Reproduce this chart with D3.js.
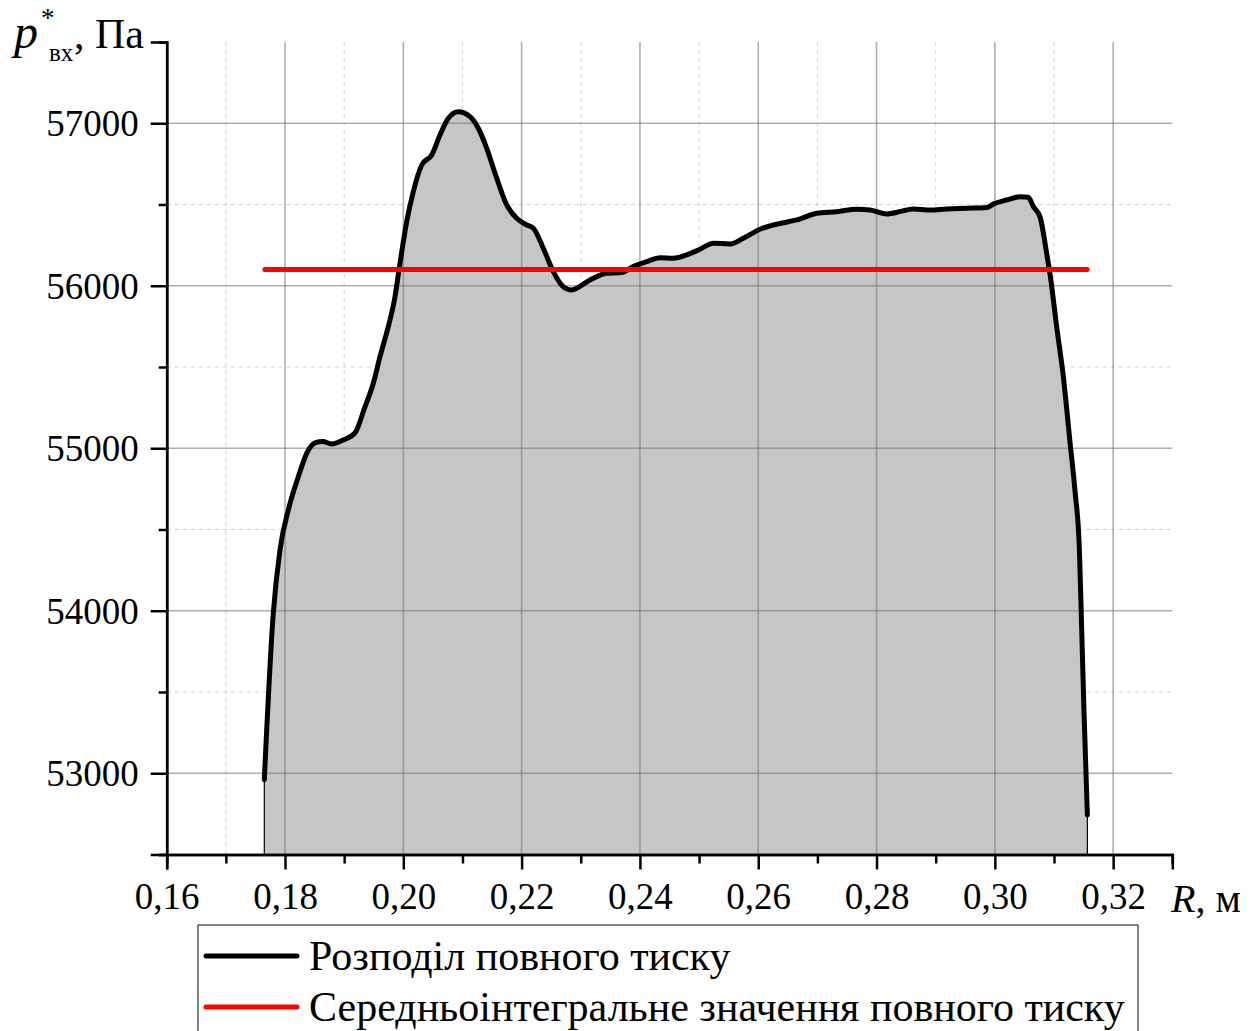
<!DOCTYPE html>
<html>
<head>
<meta charset="utf-8">
<script src="https://cdn.jsdelivr.net/npm/d3@7"></script>
<style>
  html, body { margin: 0; padding: 0; background: #fff; }
  svg { display: block; }
  svg text { font-family: "Liberation Serif", "Times New Roman", serif; }
</style>
</head>
<body>
<svg id="chart" width="1259" height="1031"></svg>
<script>
// ---- data ----
const radius = [0.17650,0.17802,0.17915,0.18056,0.18225,0.18367,0.18507,0.18637,0.18790,0.18986,
  0.19183,0.19353,0.19493,0.19606,0.19746,0.19860,0.19927,0.19978,0.20057,0.20169,
  0.20311,0.20480,0.20620,0.20761,0.20930,0.21128,0.21268,0.21410,0.21579,0.21748,
  0.21917,0.22086,0.22198,0.22367,0.22536,0.22705,0.22847,0.23156,0.23439,0.23692,
  0.23888,0.24115,0.24340,0.24565,0.24791,0.25016,0.25241,0.25523,0.25748,0.26030,
  0.26255,0.26509,0.26651,0.26989,0.27327,0.27665,0.27890,0.28172,0.28397,0.28622,
  0.28904,0.29187,0.29525,0.29863,0.29975,0.30201,0.30426,0.30566,0.30651,0.30764,
  0.30877,0.30933,0.31047,0.31158,0.31271,0.31356,0.31429,0.31469,0.31508,0.31564];
const pressure = [52960,53985,54374,54620,54825,54969,55033,55041,55026,55051,
  55094,55256,55400,55564,55748,55933,56097,56220,56394,56579,
  56743,56805,56928,57031,57071,57041,56969,56846,56662,56497,
  56415,56374,56354,56231,56087,55994,55974,56036,56077,56081,
  56118,56148,56173,56169,56190,56225,56262,56257,56292,56348,
  56374,56394,56405,56446,56456,56471,56466,56442,56456,56473,
  56466,56473,56477,56481,56503,56528,56548,56545,56487,56424,
  56197,56071,55743,55441,55037,54734,54381,53877,53372,52743];
const meanPressure = 56100;
const meanRange = [0.1766, 0.3156];

const xMajorTicks = [0.16,0.18,0.20,0.22,0.24,0.26,0.28,0.30,0.32];
const xMinorTicks = [0.17,0.19,0.21,0.23,0.25,0.27,0.29,0.31,0.33];
const yMajorTicks = [53000,54000,55000,56000,57000];
const yMinorTicks = [52500,53500,54500,55500,56500,57500];
const xDomain = [0.16, 0.33];
const yDomain = [52500, 57500];
const legendLabels = ["Розподіл повного тиску", "Середньоінтегральне значення повного тиску"];

// ---- drawing ----
const FONT = "Liberation Serif, Times New Roman, serif";
const svg = d3.select("#chart");
const x = d3.scaleLinear().domain(xDomain).range([166.7, 1172.3]);
const y = d3.scaleLinear().domain(yDomain).range([854.5, 42]);
const pts = radius.map((r, i) => [r, pressure[i]]);

// minor grid (under fill)
const gMinor = svg.append("g");
gMinor.selectAll("line.vx").data(xMinorTicks.filter(d => d < 0.33)).join("line")
  .attr("x1", d => x(d)).attr("x2", d => x(d)).attr("y1", y(yDomain[0])).attr("y2", y(yDomain[1]))
  .attr("stroke", "#cfcfcf").attr("stroke-width", 1).attr("stroke-dasharray", "4,4");
gMinor.selectAll("line.hy").data(yMinorTicks.filter(d => d > 52500 && d < 57500)).join("line")
  .attr("x1", x(xDomain[0])).attr("x2", x(xDomain[1])).attr("y1", d => y(d)).attr("y2", d => y(d))
  .attr("stroke", "#cfcfcf").attr("stroke-width", 1).attr("stroke-dasharray", "4,4");

// fill
const curve = d3.curveMonotoneX;
const area = d3.area().x(d => x(d[0])).y0(y(yDomain[0])).y1(d => y(d[1])).curve(curve);
svg.append("path").datum(pts).attr("d", area).attr("fill", "#c6c6c6");

// major grid (over fill)
const gMajor = svg.append("g");
gMajor.selectAll("line").data(xMajorTicks.filter(d => d > 0.16)).join("line")
  .attr("x1", d => x(d)).attr("x2", d => x(d)).attr("y1", y(yDomain[0])).attr("y2", y(yDomain[1]))
  .attr("stroke", "#7a7a7a").attr("stroke-opacity", 0.6).attr("stroke-width", 1.6);
gMajor.selectAll("line.h").data(yMajorTicks).join("line")
  .attr("x1", x(xDomain[0])).attr("x2", x(xDomain[1])).attr("y1", d => y(d)).attr("y2", d => y(d))
  .attr("stroke", "#7a7a7a").attr("stroke-opacity", 0.6).attr("stroke-width", 1.6);

// thin edges of the filled region
[pts[0], pts[pts.length - 1]].forEach(p => {
  svg.append("line").attr("x1", x(p[0])).attr("x2", x(p[0]))
    .attr("y1", y(p[1])).attr("y2", y(yDomain[0]))
    .attr("stroke", "#000").attr("stroke-width", 1.2);
});

// curve
const line = d3.line().x(d => x(d[0])).y(d => y(d[1])).curve(curve);
svg.append("path").datum(pts).attr("d", line).attr("fill", "none")
  .attr("stroke", "#000").attr("stroke-width", 5).attr("stroke-linejoin", "round").attr("stroke-linecap", "round");

// mean line
svg.append("line").attr("x1", x(meanRange[0])).attr("x2", x(meanRange[1]))
  .attr("y1", y(meanPressure)).attr("y2", y(meanPressure))
  .attr("stroke", "#ff0000").attr("stroke-width", 5).attr("stroke-linecap", "round");

// axes
const fmtX = d => d3.format(".2f")(d).replace(".", ",");
const xAxisG = svg.append("g").attr("transform", `translate(0,${y(yDomain[0])})`);
xAxisG.call(d3.axisBottom(x).tickValues(xMajorTicks).tickFormat(fmtX).tickSize(15).tickPadding(13));
const xMinorG = svg.append("g").attr("transform", `translate(0,${y(yDomain[0])})`);
xMinorG.call(d3.axisBottom(x).tickValues(xMinorTicks).tickFormat("").tickSize(9));
const yAxisG = svg.append("g").attr("transform", `translate(${x(xDomain[0])},0)`);
yAxisG.call(d3.axisLeft(y).tickValues(yMajorTicks).tickFormat(d3.format("d")).tickSize(16).tickPadding(12));
const yMinorG = svg.append("g").attr("transform", `translate(${x(xDomain[0])},0)`);
yMinorG.call(d3.axisLeft(y).tickValues(yMinorTicks).tickFormat("").tickSize(8));

[xAxisG, xMinorG, yAxisG, yMinorG].forEach(g => {
  g.attr("font-family", FONT).attr("font-size", 37);
  g.select(".domain").attr("stroke", "#000").attr("stroke-width", 2.5);
  g.selectAll(".tick line").attr("stroke", "#000").attr("stroke-width", 2.5);
  g.selectAll(".tick text").attr("fill", "#000").attr("font-family", FONT).attr("font-size", 37);
});
xAxisG.selectAll(".tick text").attr("dy", "0.71em");
yAxisG.selectAll(".tick text").attr("dy", "0.34em");

// axis titles
const yt = svg.append("text").attr("y", 48).attr("font-size", 42).attr("fill", "#000");
yt.append("tspan").attr("x", 14).text("p").attr("font-style", "italic").attr("font-size", 48);
yt.append("tspan").attr("x", 41).attr("y", 27).text("*").attr("font-size", 27);
yt.append("tspan").attr("x", 49).attr("y", 61).text("вх").attr("font-size", 25);
yt.append("tspan").attr("x", 74).attr("y", 48).text(", Па");

const xt = svg.append("text").attr("x", 1171).attr("y", 912)
  .attr("font-size", 40).attr("fill", "#000");
xt.append("tspan").text("R").attr("font-style", "italic");
xt.append("tspan").text(", м");

// legend
const lg = svg.append("g");
lg.append("rect").attr("x", 198).attr("y", 925).attr("width", 940).attr("height", 130)
  .attr("fill", "#fff").attr("stroke", "#333").attr("stroke-width", 1.2);
const legendColors = ["#000", "#ff0000"];
legendLabels.forEach((t, i) => {
  const cy = 956 + i * 51;
  lg.append("line").attr("x1", 206).attr("x2", 297).attr("y1", cy).attr("y2", cy)
    .attr("stroke", legendColors[i]).attr("stroke-width", 5).attr("stroke-linecap", "round");
  lg.append("text").attr("x", 309).attr("y", cy + 14).text(t)
    .attr("font-size", 42).attr("fill", "#000");
});
</script>
</body>
</html>
